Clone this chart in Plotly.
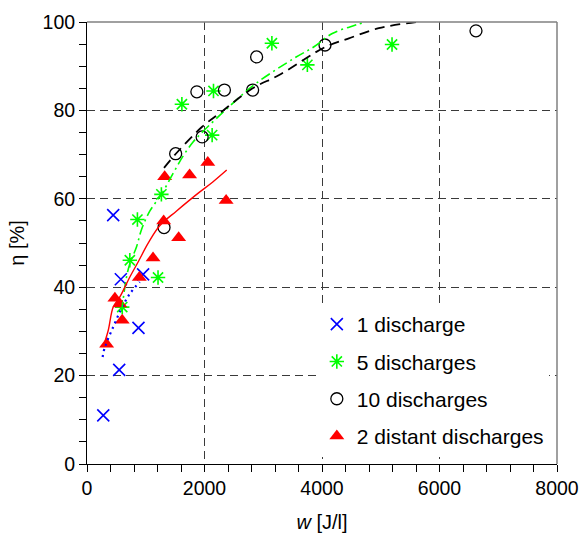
import plotly.graph_objects as go

# ---- data ----
d1_x = [277, 446, 548, 576, 876, 955]
d1_y = [11.0, 56.3, 21.3, 41.8, 30.8, 42.9]

d5_x = [600, 729, 858, 1209, 1266, 1615, 2130, 2153, 3147, 3751, 5192]
d5_y = [35.5, 46.1, 55.3, 42.2, 61.0, 81.4, 74.4, 84.4, 95.2, 90.3, 94.9]

d10_x = [1311, 1509, 1870, 1960, 2339, 2819, 2887, 4051, 6621]
d10_y = [53.5, 70.2, 84.2, 74.0, 84.6, 84.6, 92.1, 94.8, 98.0]

d2_x = [334, 475, 559, 599, 890, 1124, 1305, 1322, 1560, 1746, 2056, 2368]
d2_y = [27.1, 37.5, 36.2, 32.5, 42.2, 46.6, 55.0, 65.0, 51.2, 65.4, 68.2, 59.6]

# trend lines
fit1_x = [266, 305, 446, 588, 729, 898]
fit1_y = [24.2, 26.5, 31.0, 35.2, 38.5, 41.2]

fit5_x = [588, 673, 729, 842, 927, 1068, 1266, 1463, 1632, 1802, 1972, 2480, 2876, 3526, 3864, 4175, 4570, 4741]
fit5_y = [34.4, 42.3, 45.3, 49.1, 53.0, 57.2, 61.0, 65.7, 69.6, 72.8, 75.2, 81.6, 86.1, 91.8, 94.4, 97.4, 99.3, 100.0]

fit10_x = [1311, 1520, 1960, 2254, 2819, 3271, 4063, 4458, 4966, 5600]
fit10_y = [67.0, 70.3, 76.3, 79.3, 85.0, 88.0, 94.4, 96.3, 98.6, 100.0]

fit2_x = [276, 361, 446, 559, 729, 870, 1039, 1237, 1520, 1746, 1915, 2141, 2378]
fit2_y = [26.5, 30.2, 35.5, 37.8, 42.3, 45.7, 49.9, 53.9, 57.2, 59.7, 61.5, 63.8, 66.5]

x_ticks = [0, 2000, 4000, 6000, 8000]
y_ticks = [0, 20, 40, 60, 80, 100]

names = ["1 discharge", "5 discharges", "10 discharges", "2 distant discharges"]

FONT = "Liberation Sans, Arial, sans-serif"

fig = go.Figure()

fig.add_trace(go.Scatter(x=d1_x, y=d1_y, mode="markers", name=names[0], legendgroup="a",
                         marker=dict(symbol="x-thin-open", size=12, color="#0000FF",
                                     line=dict(color="#0000FF", width=1.6))))
fig.add_trace(go.Scatter(x=d5_x, y=d5_y, mode="markers", name=names[1], legendgroup="b",
                         marker=dict(symbol="asterisk-open", size=12, color="#00FF00",
                                     line=dict(color="#00FF00", width=1.6))))
fig.add_trace(go.Scatter(x=d10_x, y=d10_y, mode="markers", name=names[2], legendgroup="c",
                         marker=dict(symbol="circle-open", size=12, color="#000000",
                                     line=dict(color="#000000", width=1.3))))
fig.add_trace(go.Scatter(x=d2_x, y=d2_y, mode="markers", name=names[3], legendgroup="d",
                         marker=dict(symbol="triangle-up", size=13, color="#FF0000",
                                     line=dict(width=0))))

fig.add_trace(go.Scatter(x=fit1_x, y=fit1_y, mode="lines", showlegend=False, hoverinfo="skip",
                         line=dict(color="#0000FF", width=2.2, dash="2px,4px", shape="spline")))
fig.add_trace(go.Scatter(x=fit5_x, y=fit5_y, mode="lines", showlegend=False, hoverinfo="skip",
                         line=dict(color="#00FF00", width=1.6, dash="10px,4px,2px,4px", shape="spline")))
fig.add_trace(go.Scatter(x=fit10_x, y=fit10_y, mode="lines", showlegend=False, hoverinfo="skip",
                         line=dict(color="#000000", width=1.8, dash="10px,6px", shape="spline")))
fig.add_trace(go.Scatter(x=fit2_x, y=fit2_y, mode="lines", showlegend=False, hoverinfo="skip",
                         line=dict(color="#FF0000", width=1.4, shape="spline")))

grid = dict(showgrid=True, gridcolor="#3a3a3a", gridwidth=1, griddash="8px,5px")

fig.update_xaxes(range=[0, 8000], tickvals=x_ticks, ticks="outside", ticklen=7,
                 tickcolor="#000", showline=True, linecolor="#000", linewidth=1,
                 zeroline=False, automargin=False,
                 minor=dict(dtick=400, ticks="outside", ticklen=7, tickcolor="#000", showgrid=False),
                 tickfont=dict(size=19.5, color="#000", family=FONT),
                 title=dict(text="<i>w</i> [J/l]", font=dict(size=20, color="#000", family=FONT), standoff=16),
                 **grid)
fig.update_yaxes(range=[0, 100], tickvals=y_ticks, ticks="outside", ticklen=7,
                 tickcolor="#000", showline=True, linecolor="#000", linewidth=1,
                 zeroline=False, automargin=False,
                 minor=dict(dtick=5, ticks="outside", ticklen=7, tickcolor="#000", showgrid=False),
                 tickfont=dict(size=19.5, color="#000", family=FONT),
                 title=dict(text="η [%]", font=dict(size=20, color="#000", family=FONT), standoff=12),
                 **grid)

fig.add_shape(type="line", xref="paper", yref="paper", x0=0, x1=1, y0=1, y1=1,
              line=dict(color="#808080", width=1.5), layer="above")
fig.add_shape(type="line", xref="paper", yref="paper", x0=1, x1=1, y0=0, y1=1,
              line=dict(color="#808080", width=1.5), layer="above")

fig.update_layout(
    width=581, height=542,
    margin=dict(l=87, r=24, t=22, b=78),
    paper_bgcolor="white", plot_bgcolor="white",
    font=dict(family=FONT, color="#000"),
    showlegend=True,
    legend=dict(x=0.489, y=0.362, xanchor="left", yanchor="top",
                bgcolor="white", borderwidth=0,
                font=dict(size=21, family=FONT, color="#000"),
                tracegroupgap=7, itemsizing="trace"),
)

# remove the browser's default page margin so the figure fills the window exactly
fig.write_html("out.html",
               config={"displayModeBar": False},
               post_script="document.body.style.margin='0';document.body.style.overflow='hidden';")
